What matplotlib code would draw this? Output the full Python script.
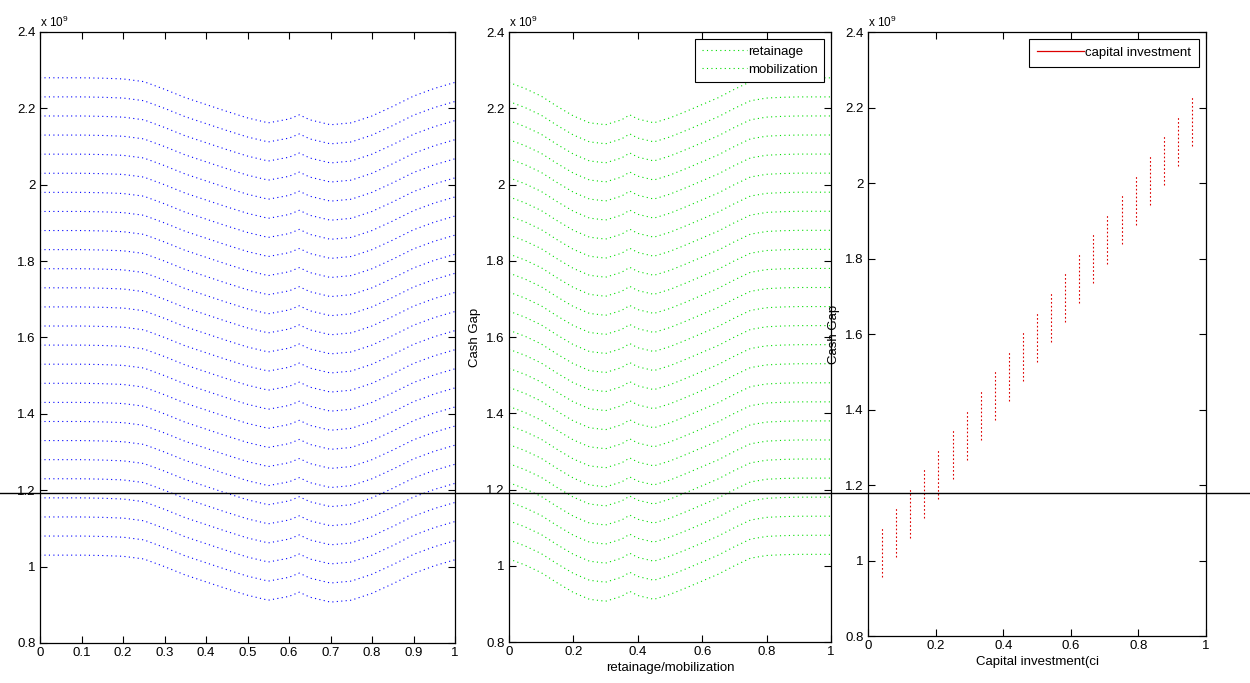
import matplotlib
matplotlib.use("Agg")
import matplotlib.pyplot as plt
import numpy as np
from matplotlib.lines import Line2D

plt.rcParams['font.family'] = ['Liberation Sans', 'DejaVu Sans']
plt.rcParams['mathtext.default'] = 'regular'
plt.rcParams['font.size'] = 9.5

# Level of each curve at its flat end (x 1e9)
levels = [2.28, 2.23, 2.18, 2.13, 2.08, 2.03, 1.98, 1.93, 1.88, 1.83, 1.78, 1.73, 1.68,
          1.63, 1.58, 1.53, 1.48, 1.43, 1.38, 1.33, 1.28, 1.23, 1.18, 1.13, 1.08, 1.03]

# Panel 1 shape (offset from level)
x1 = [0, 0.05, 0.1, 0.15, 0.2, 0.25, 0.3, 0.35, 0.4, 0.45, 0.5, 0.55, 0.6, 0.625,
      0.65, 0.7, 0.75, 0.8, 0.85, 0.9, 0.95, 1.0]
off1 = [0, 0, 0, -0.001, -0.003, -0.01, -0.03, -0.052, -0.07, -0.088, -0.105, -0.118,
        -0.108, -0.097, -0.11, -0.123, -0.118, -0.1, -0.075, -0.048, -0.028, -0.012]

# Panel 2 shape (retainage/mobilization)
x2 = [0, 0.05, 0.1, 0.15, 0.2, 0.25, 0.3, 0.35, 0.375, 0.4, 0.45, 0.5, 0.55, 0.6,
      0.65, 0.7, 0.75, 0.8, 0.85, 0.9, 0.95, 1.0]
off2 = [-0.012, -0.028, -0.048, -0.075, -0.1, -0.118, -0.123, -0.11, -0.097, -0.108,
        -0.118, -0.105, -0.088, -0.07, -0.052, -0.03, -0.01, -0.003, -0.001, 0, 0, 0]

# Panel 3: capital investment segments
ci_x = [0.042, 0.083, 0.125, 0.167, 0.208, 0.25, 0.292, 0.333, 0.375, 0.417, 0.458, 0.5,
        0.542, 0.583, 0.625, 0.667, 0.708, 0.75, 0.792, 0.833, 0.875, 0.917, 0.958]
ci_top = [1.088, 1.140, 1.192, 1.244, 1.296, 1.347, 1.399, 1.451, 1.503, 1.555, 1.607, 1.659,
          1.711, 1.763, 1.815, 1.867, 1.918, 1.970, 2.022, 2.074, 2.126, 2.178, 2.230]
ci_bot = [0.956, 1.008, 1.060, 1.112, 1.164, 1.215, 1.267, 1.319, 1.371, 1.423, 1.475, 1.527,
          1.579, 1.631, 1.683, 1.735, 1.786, 1.838, 1.890, 1.942, 1.994, 2.046, 2.098]

yticks = [0.8, 1.0, 1.2, 1.4, 1.6, 1.8, 2.0, 2.2, 2.4]
ytick_labels = ['0.8', '1', '1.2', '1.4', '1.6', '1.8', '2', '2.2', '2.4']

fig = plt.figure(figsize=(12.5, 6.83), dpi=100)
ax1 = fig.add_axes([0.032, 0.0586, 0.332, 0.8946])
ax2 = fig.add_axes([0.4072, 0.060, 0.2576, 0.893])
ax3 = fig.add_axes([0.6944, 0.0688, 0.2704, 0.8843])

dots = (0, (1, 3))
x1a = np.array(x1)
x2a = np.array(x2)
for lv in levels:
    ax1.plot(x1a, (lv + np.array(off1)) * 1e9, color='#0000ff', lw=0.8, ls=dots)
for lv in levels:
    ax2.plot(x2a, (lv + np.array(off2)) * 1e9, color='#00dd00', lw=0.8, ls=dots)

for xx, lo, hi in zip(ci_x, ci_bot, ci_top):
    ax3.plot([xx, xx], [lo * 1e9, hi * 1e9], color='#dd0000', lw=0.8, ls=(0, (1.5, 2)))

for ax, step in [(ax1, 0.1), (ax2, 0.2), (ax3, 0.2)]:
    ax.set_xlim(0, 1)
    ax.set_ylim(0.8e9, 2.4e9)
    xt = np.round(np.arange(0, 1.0001, step), 1)
    ax.set_xticks(xt)
    ax.set_xticklabels(['0' if v == 0 else ('1' if v == 1 else f'{v:g}') for v in xt])
    ax.set_yticks([v * 1e9 for v in yticks])
    ax.set_yticklabels(ytick_labels)
    ax.tick_params(direction='in', length=5, width=0.8, top=True, right=True,
                   labelsize=9.5, pad=3)
    for s in ax.spines.values():
        s.set_linewidth(0.9)
    ax.text(0.0, 1.004, r'x 10$^{9}$', transform=ax.transAxes, fontsize=8.5,
            ha='left', va='bottom')

ax2.set_ylabel('Cash Gap', fontsize=9.5, labelpad=4)
ax2.set_xlabel('retainage/mobilization', fontsize=9.5, labelpad=3)
ax3.set_ylabel('Cash Gap', fontsize=9.5, labelpad=4)
ax3.set_xlabel('Capital investment(ci', fontsize=9.5, labelpad=3)

h2 = [Line2D([], [], color='#00dd00', lw=0.8, ls=dots),
      Line2D([], [], color='#00dd00', lw=0.8, ls=dots)]
leg2 = ax2.legend(h2, ['retainage', 'mobilization'], loc='upper right', fontsize=9.5,
                  fancybox=False, edgecolor='black', framealpha=1, handlelength=3.4,
                  handletextpad=0.1, borderaxespad=0.5, labelspacing=0.45, borderpad=0.5)
leg2.get_frame().set_linewidth(0.8)

h3 = [Line2D([], [], color='#dd0000', lw=0.9)]
leg3 = ax3.legend(h3, ['capital investment'], loc='upper right', fontsize=9.5,
                  fancybox=False, edgecolor='black', framealpha=1, handlelength=3.6,
                  handletextpad=0.1, borderaxespad=0.5, borderpad=0.6)
leg3.get_frame().set_linewidth(0.8)

# horizontal line across the whole figure
fig.add_artist(Line2D([0, 1], [0.2782, 0.2782], color='black', lw=1.0,
                      transform=fig.transFigure))

fig.savefig('out.png', dpi=100)
